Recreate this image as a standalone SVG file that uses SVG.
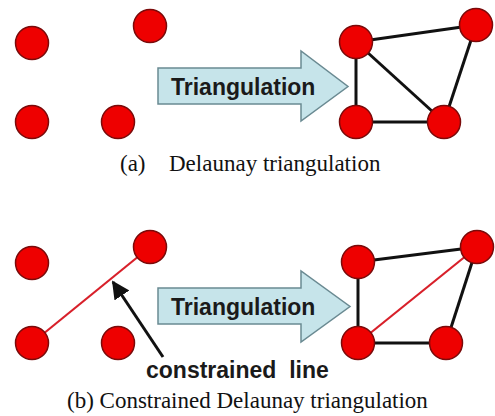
<svg xmlns="http://www.w3.org/2000/svg" width="495" height="416" viewBox="0 0 495 416">
<defs>
<style>
.pt{fill:#ee0000;stroke:#7a0a0a;stroke-width:1.5}
.e{stroke:#111;stroke-width:3;fill:none}
.c{stroke:#d8202a;stroke-width:2.2;fill:none}
.arr{fill:#c6e4ea;stroke:#6a8a92;stroke-width:1.5}
.lbl{font-family:"Liberation Sans",Arial,sans-serif;font-weight:bold;font-size:23px;fill:#1a1a1a}
.cap{font-family:"Liberation Serif","Times New Roman",serif;font-size:23px;fill:#111}
</style>
<marker id="ah" viewBox="0 0 10 10" refX="9" refY="5" markerWidth="6" markerHeight="6" orient="auto" markerUnits="strokeWidth">
<path d="M0,0 L10,5 L0,10 z" fill="#111"/>
</marker>
</defs>
<rect width="495" height="416" fill="#fff"/>
<g id="connectors">
<line class="e" x1="356" y1="42" x2="476" y2="25"/>
<line class="e" x1="356" y1="42" x2="356" y2="122"/>
<line class="e" x1="356" y1="42" x2="444" y2="122"/>
<line class="e" x1="356" y1="122" x2="444" y2="122"/>
<line class="e" x1="476" y1="25" x2="444" y2="122"/>
<line class="c" x1="32" y1="343" x2="150" y2="247"/>
<line class="e" x1="358" y1="262" x2="477" y2="247"/>
<line class="e" x1="358" y1="262" x2="358" y2="343"/>
<line class="e" x1="358" y1="343" x2="446" y2="343"/>
<line class="e" x1="477" y1="247" x2="446" y2="343"/>
<line class="c" x1="358" y1="343" x2="477" y2="247"/>
<line x1="163" y1="357" x2="113" y2="282" stroke="#111" stroke-width="3" marker-end="url(#ah)"/>
</g>
<g id="arrow-a">
<path class="arr" d="M158,68 H301 V51 L348,86.5 L301,121 V104 H158 Z"/>
<text class="lbl" x="171" y="95">Triangulation</text>
</g>
<g id="arrow-b">
<path class="arr" d="M158,288 H301 V271 L350,306.5 L301,342 V324 H158 Z"/>
<text class="lbl" x="171" y="315">Triangulation</text>
</g>
<g id="a-p1"><circle class="pt" cx="32" cy="43" r="16.5"/></g>
<g id="a-p2"><circle class="pt" cx="150" cy="26" r="16.5"/></g>
<g id="a-p3"><circle class="pt" cx="32" cy="122" r="16.5"/></g>
<g id="a-p4"><circle class="pt" cx="118" cy="122" r="16.5"/></g>
<g id="a-q1"><circle class="pt" cx="356" cy="42" r="16.5"/></g>
<g id="a-q2"><circle class="pt" cx="476" cy="25" r="16.5"/></g>
<g id="a-q3"><circle class="pt" cx="356" cy="122" r="16.5"/></g>
<g id="a-q4"><circle class="pt" cx="444" cy="122" r="16.5"/></g>
<g id="b-p1"><circle class="pt" cx="32" cy="263" r="16.5"/></g>
<g id="b-p2"><circle class="pt" cx="150" cy="247" r="16.5"/></g>
<g id="b-p3"><circle class="pt" cx="32" cy="343" r="16.5"/></g>
<g id="b-p4"><circle class="pt" cx="118" cy="343" r="16.5"/></g>
<g id="b-q1"><circle class="pt" cx="358" cy="262" r="16.5"/></g>
<g id="b-q2"><circle class="pt" cx="477" cy="247" r="16.5"/></g>
<g id="b-q3"><circle class="pt" cx="358" cy="343" r="16.5"/></g>
<g id="b-q4"><circle class="pt" cx="446" cy="343" r="16.5"/></g>
<g id="constrained-label">
<text class="lbl" x="146" y="378" font-size="22.4" xml:space="preserve">constrained  line</text>
</g>
<text class="cap" x="120" y="171" font-size="23.8">(a)<tspan x="169">Delaunay triangulation</tspan></text>
<text class="cap" x="67" y="408">(b) Constrained Delaunay triangulation</text>
</svg>
